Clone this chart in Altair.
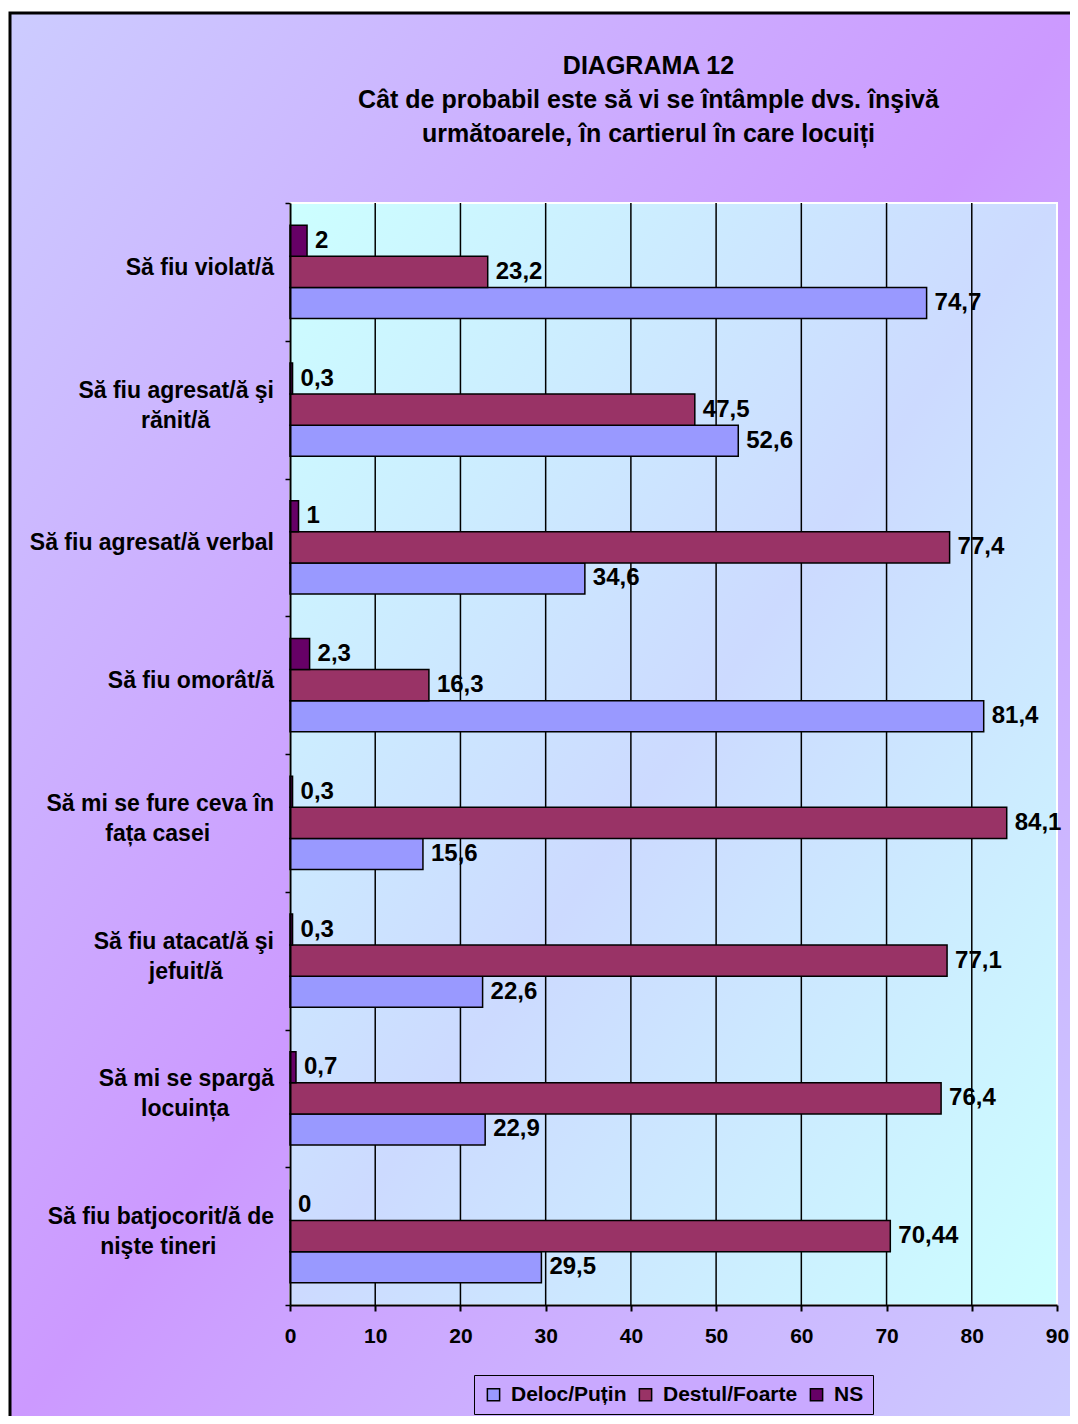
import altair as alt
import pandas as pd

NB = "\u00a0"
ZW = "\u200b"

categories = [
    "Să fiu violat/ă",
    "Să fiu agresat/ă şi rănit/ă",
    "Să fiu agresat/ă verbal",
    "Să fiu omorât/ă",
    "Să mi se fure ceva în fața casei",
    "Să fiu atacat/ă şi jefuit/ă",
    "Să mi se spargă locuința",
    "Să fiu batjocorit/ă de nişte tineri",
]
cat_lines = [
    ["Să fiu violat/ă"],
    ["Să fiu agresat/ă şi", "rănit/ă"],
    ["Să fiu agresat/ă verbal"],
    ["Să fiu omorât/ă"],
    ["Să mi se fure ceva în", "fața casei"],
    ["Să fiu atacat/ă şi", "jefuit/ă"],
    ["Să mi se spargă", "locuința"],
    ["Să fiu batjocorit/ă de", "nişte tineri"],
]
# non-breaking spaces that centre each second line under the first one
second_line_pad = [0, 10, 0, 0, 10, 8, 7, 9]

series = ["Deloc/Puțin", "Destul/Foarte", "NS"]
deloc = [74.7, 52.6, 34.6, 81.4, 15.6, 22.6, 22.9, 29.5]
destul = [23.2, 47.5, 77.4, 16.3, 84.1, 77.1, 76.4, 70.44]
ns = [2, 0.3, 1, 2.3, 0.3, 0.3, 0.7, 0]
x_ticks = [0, 10, 20, 30, 40, 50, 60, 70, 80, 90]
grid_vals = [10, 20, 30, 40, 50, 60, 70, 80]
colors = ["#9999ff", "#993366", "#660066"]

title_lines = [
    "DIAGRAMA 12",
    "Cât de probabil este să vi se întâmple dvs. înşivă",
    "următoarele, în cartierul în care locuiți",
]

rows = []
for s, vals in zip(series, [deloc, destul, ns]):
    for c, v in zip(categories, vals):
        rows.append({"cat": c, "series": s, "value": v,
                     "label": f"{v:g}".replace(".", ",")})
df = pd.DataFrame(rows)

lab_rows = []
for c, lines, pad in zip(categories, cat_lines, second_line_pad):
    if len(lines) == 1:
        lab_rows.append({"cat": c, "txt": lines[0], "kind": "single"})
    else:
        lab_rows.append({"cat": c, "txt": lines[0], "kind": "first"})
        lab_rows.append({"cat": c, "txt": lines[1] + NB * pad + ZW, "kind": "second"})
df_lab = pd.DataFrame(lab_rows)

W, H = 767, 1102
FONT = "Liberation Sans"

xenc = alt.X("value:Q", title=None,
             scale=alt.Scale(domain=[0, 90], nice=False, zero=True),
             axis=alt.Axis(zindex=1, values=x_ticks))
yenc = alt.Y("cat:N", sort=categories, title=None,
             scale=alt.Scale(paddingInner=0, paddingOuter=0),
             axis=alt.Axis(zindex=1, labels=False))
yoff = alt.YOffset("series:N", sort=["NS", "Destul/Foarte", "Deloc/Puțin"],
                   scale=alt.Scale(paddingInner=0, paddingOuter=0.72))
color = alt.Color("series:N",
                  scale=alt.Scale(domain=series, range=colors),
                  legend=alt.Legend(title=None, orient="none", legendX=184, legendY=1172,
                                    direction="horizontal"))

outer_grad = alt.LinearGradient(
    gradient="linear", x1=0, y1=0, x2=1, y2=1,
    stops=[alt.GradientStop(color="#ccccff", offset=0),
           alt.GradientStop(color="#cc99ff", offset=0.5),
           alt.GradientStop(color="#ccccff", offset=1)])
plot_grad = alt.LinearGradient(
    gradient="linear", x1=0, y1=0, x2=1, y2=1,
    stops=[alt.GradientStop(color="#ccffff", offset=0),
           alt.GradientStop(color="#ccdaff", offset=0.5),
           alt.GradientStop(color="#ccffff", offset=1)])

one = pd.DataFrame({"d": [0]})
outer = alt.Chart(one).mark_rect(fill=outer_grad, stroke="black", strokeWidth=3).encode(
    x=alt.value(-280), x2=alt.value(792), y=alt.value(-190), y2=alt.value(1225))
plotbg = alt.Chart(one).mark_rect(fill=plot_grad, stroke="white", strokeWidth=2).encode(
    x=alt.value(0), x2=alt.value(W), y=alt.value(0), y2=alt.value(H))

text = alt.Chart(df).mark_text(align="left", baseline="middle", dx=8, font=FONT,
                               fontSize=24, fontWeight="bold", color="black").encode(
    x=xenc, y=yenc, yOffset=yoff, text="label:N")

rules = alt.Chart(pd.DataFrame({"value": grid_vals})).mark_rule(
    color="black", strokeWidth=1.5).encode(x=xenc)

bars = alt.Chart(df).mark_bar(stroke="black", strokeWidth=1.5, opacity=1).encode(
    x=xenc, y=yenc, yOffset=yoff, color=color)


def cat_text(kind, dy):
    return alt.Chart(df_lab).transform_filter(
        alt.datum.kind == kind
    ).mark_text(align="right", baseline="middle", dy=dy, font=FONT, fontSize=23,
                fontWeight="bold", color="black").encode(
        x=alt.value(-16), y=yenc, text="txt:N")


chart = alt.layer(outer, plotbg, text, rules, bars,
                  cat_text("single", -4), cat_text("first", -19),
                  cat_text("second", 11)).properties(
    width=W, height=H,
    title=alt.Title(text=title_lines, anchor="middle", dx=-25, dy=135, offset=0,
                    fontSize=25, fontWeight="bold", font=FONT, lineHeight=34,
                    color="black"),
    padding={"left": 282, "top": 195, "right": 13, "bottom": 111},
    autosize=alt.AutoSizeParams(type="none"),
).configure(
    background="white", font=FONT
).configure_view(
    strokeWidth=0
).configure_axisX(
    grid=False, domainColor="black", domainWidth=2,
    tickColor="black", tickSize=6, tickWidth=2, labelFont=FONT, labelFontSize=21,
    labelFontWeight="bold", labelColor="black", labelPadding=14, labelFlush=False,
    labelOverlap=False
).configure_axisY(
    grid=False, domainColor="black", domainWidth=2, tickColor="black", tickSize=5,
    tickWidth=1.5, tickBand="extent"
).configure_legend(
    fillColor="#c9a9ff", strokeColor="black", padding=9, symbolType="square",
    symbolSize=150, symbolStrokeColor="black", symbolStrokeWidth=1.5,
    symbolOpacity=1, labelFont=FONT, labelFontSize=21, labelFontWeight="bold",
    labelColor="black", columnPadding=8, labelOffset=7
)

chart.save("out.html", embed_options={"renderer": "svg", "actions": False})
